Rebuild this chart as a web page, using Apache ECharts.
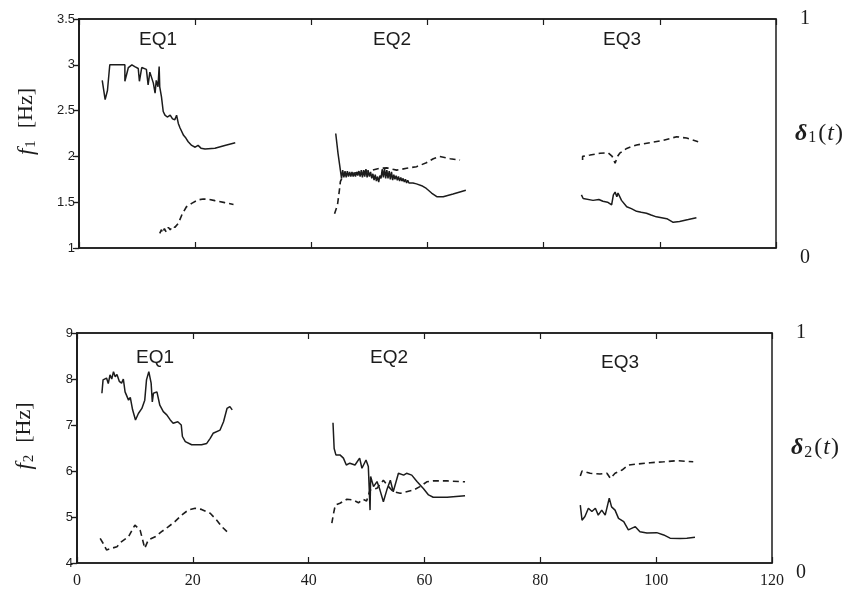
<!DOCTYPE html>
<html>
<head>
<meta charset="utf-8">
<script src="https://cdn.jsdelivr.net/npm/echarts@6/dist/echarts.min.js"></script>
<style>
html,body{margin:0;padding:0;background:#fff;}
#chart{width:847px;height:589px;}
</style>
</head>
<body>
<div id="chart"></div>
<script>
// ---- Data (time [s], value) ----
const eqLabels = ['EQ1', 'EQ2', 'EQ3'];
const xTickLabels = [0, 20, 40, 60, 80, 100, 120];

// Panel 1: f1 [Hz] (solid) and delta1(t) (dashed)
const f1_EQ1 = [[4.0,2.83],[4.5,2.62],[4.9,2.72],[5.3,3.0],[7.9,3.0],[7.9,2.82],[8.5,2.97],[9.1,3.0],[9.6,2.98],[10.2,2.96],[10.4,2.82],[10.8,2.97],[11.6,2.95],[11.9,2.78],[12.2,2.92],[12.5,2.91],[12.8,2.80],[13.1,2.69],[13.3,2.83],[13.6,2.76],[13.8,2.98],[13.9,2.76],[14.2,2.65],[14.5,2.49],[14.8,2.45],[15.2,2.43],[15.7,2.45],[16.1,2.41],[16.5,2.40],[16.8,2.45],[17.1,2.36],[17.4,2.31],[18.0,2.23],[18.4,2.20],[18.8,2.16],[19.4,2.12],[20.0,2.10],[20.5,2.12],[21.0,2.09],[21.7,2.08],[23.4,2.09],[25.1,2.12],[26.9,2.15]];
const d1_EQ1 = [[13.9,0.064],[14.2,0.08],[14.4,0.066],[14.7,0.085],[15.0,0.07],[15.4,0.09],[15.7,0.079],[16.1,0.095],[16.5,0.09],[17.1,0.108],[17.8,0.15],[18.5,0.18],[19.4,0.195],[20.5,0.21],[21.4,0.214],[22.3,0.213],[23.4,0.207],[25.1,0.198],[26.6,0.19]];
const f1_EQ2 = [[44.2,2.25],[44.6,2.03],[45.0,1.85],[45.2,1.76],[45.4,1.85],[45.6,1.77],[45.8,1.84],[46.0,1.77],[46.2,1.84],[46.4,1.78],[46.6,1.83],[46.8,1.78],[47.0,1.83],[47.2,1.78],[47.4,1.82],[47.6,1.78],[47.8,1.83],[48.0,1.79],[48.2,1.84],[48.4,1.78],[48.6,1.85],[48.8,1.77],[49.0,1.85],[49.2,1.78],[49.4,1.86],[49.6,1.77],[49.8,1.84],[50.0,1.78],[50.2,1.83],[50.4,1.76],[50.6,1.81],[50.8,1.74],[51.0,1.80],[51.2,1.73],[51.4,1.78],[51.6,1.72],[51.8,1.79],[52.0,1.76],[52.2,1.86],[52.4,1.77],[52.6,1.87],[52.8,1.76],[53.0,1.85],[53.2,1.76],[53.4,1.84],[53.6,1.75],[53.8,1.83],[54.0,1.74],[54.2,1.80],[54.4,1.75],[54.6,1.79],[54.8,1.74],[55.0,1.78],[55.2,1.73],[55.4,1.77],[55.6,1.73],[55.8,1.76],[56.0,1.72],[56.2,1.75],[56.4,1.71],[56.6,1.74],[56.8,1.71],[57.0,1.72],[57.5,1.71],[58.1,1.70],[59.0,1.68],[59.8,1.65],[60.7,1.60],[61.6,1.56],[62.7,1.56],[64.4,1.59],[66.6,1.63]];
const d1_EQ2 = [[44.0,0.15],[44.5,0.188],[44.8,0.246],[45.0,0.29],[45.5,0.319],[47.0,0.326],[48.9,0.333],[50.5,0.34],[51.8,0.348],[53.0,0.35],[54.7,0.34],[56.4,0.348],[58.1,0.355],[59.8,0.372],[61.0,0.39],[62.1,0.40],[63.9,0.39],[65.6,0.384]];
const f1_EQ3 = [[86.5,1.58],[86.8,1.54],[88.5,1.52],[89.5,1.53],[90.2,1.51],[91.0,1.50],[91.7,1.47],[92.0,1.58],[92.3,1.61],[92.6,1.56],[92.8,1.60],[93.4,1.52],[94.3,1.45],[95.1,1.43],[96.0,1.40],[96.8,1.39],[97.7,1.38],[98.5,1.36],[99.4,1.34],[100.3,1.33],[101.2,1.32],[102.3,1.28],[103.4,1.29],[104.9,1.31],[106.3,1.33]];
const d1_EQ3 = [[86.7,0.384],[86.7,0.40],[88.0,0.406],[89.7,0.414],[91.1,0.416],[91.8,0.40],[92.3,0.37],[92.7,0.40],[93.1,0.414],[94.3,0.435],[96.0,0.45],[98.3,0.46],[100.6,0.47],[102.9,0.486],[104.6,0.48],[106.6,0.464]];

// Panel 2: f2 [Hz] (solid) and delta2(t) (dashed)
const f2_EQ1 = [[4.3,7.69],[4.5,7.98],[5.1,8.02],[5.4,7.9],[5.7,8.09],[6.0,8.0],[6.3,8.16],[6.6,8.05],[6.9,8.10],[7.3,7.95],[7.7,7.91],[8.0,8.0],[8.3,7.72],[8.9,7.54],[9.2,7.60],[9.6,7.33],[10.1,7.11],[10.6,7.25],[11.2,7.36],[11.7,7.54],[12.0,7.98],[12.4,8.16],[12.8,7.91],[13.0,7.5],[13.2,7.69],[13.8,7.72],[14.3,7.43],[14.9,7.29],[15.5,7.22],[16.1,7.11],[16.6,7.04],[17.4,7.07],[18.0,7.0],[18.2,6.75],[18.7,6.64],[19.8,6.57],[21.5,6.57],[22.4,6.60],[23.0,6.71],[23.5,6.82],[24.7,6.89],[25.3,7.07],[25.9,7.36],[26.4,7.40],[26.8,7.33]];
const d2_EQ1 = [[4.0,0.107],[4.5,0.086],[5.1,0.057],[6.0,0.064],[6.9,0.071],[7.7,0.093],[8.9,0.114],[10.0,0.165],[10.9,0.143],[11.7,0.064],[12.3,0.10],[13.5,0.114],[14.6,0.136],[15.8,0.158],[16.9,0.18],[18.1,0.209],[19.2,0.23],[20.4,0.238],[21.5,0.233],[23.0,0.216],[24.1,0.187],[25.0,0.158],[25.9,0.136]];
const f2_EQ2 = [[44.2,7.05],[44.4,6.49],[44.7,6.35],[45.4,6.35],[46.0,6.28],[46.5,6.13],[47.1,6.17],[48.0,6.13],[48.8,6.28],[49.2,6.06],[49.9,6.24],[50.3,6.10],[50.6,5.15],[50.7,5.88],[51.2,5.66],[51.8,5.77],[52.3,5.59],[52.9,5.33],[53.5,5.59],[54.1,5.80],[54.6,5.55],[55.5,5.95],[56.4,5.91],[56.9,5.95],[57.8,5.91],[58.7,5.77],[59.8,5.62],[60.7,5.48],[61.5,5.43],[63.9,5.43],[67.0,5.46]];
const d2_EQ2 = [[44.0,0.173],[44.3,0.216],[44.6,0.252],[45.4,0.26],[46.6,0.277],[47.7,0.274],[48.6,0.262],[49.4,0.277],[50.0,0.27],[50.6,0.317],[51.8,0.325],[52.9,0.36],[53.8,0.332],[54.6,0.31],[55.8,0.303],[56.9,0.31],[58.1,0.317],[59.2,0.332],[60.4,0.353],[61.5,0.357],[63.9,0.357],[67.0,0.353]];
const f2_EQ3 = [[86.9,5.26],[87.2,4.93],[87.7,5.01],[88.3,5.19],[88.9,5.12],[89.5,5.19],[90.0,5.04],[90.6,5.15],[91.2,5.04],[91.9,5.41],[92.3,5.22],[92.9,5.15],[93.5,4.97],[94.4,4.90],[95.2,4.72],[96.4,4.79],[97.2,4.68],[98.4,4.65],[100.1,4.66],[101.3,4.61],[102.4,4.54],[104.1,4.53],[105.3,4.54],[106.7,4.56]];
const d2_EQ3 = [[86.9,0.378],[87.2,0.40],[88.6,0.39],[90.3,0.387],[91.5,0.39],[92.1,0.368],[92.9,0.39],[94.1,0.404],[95.2,0.426],[96.7,0.43],[99.0,0.436],[101.3,0.44],[103.6,0.445],[106.4,0.44]];

// ---- Styling ----
const INK = '#1c1c1c';
const SERIF = '"Liberation Serif", "DejaVu Serif", serif';
const SANS = '"Liberation Sans", Arial, sans-serif';

function bottomX(grid, showLabels) {
  return {
    type: 'value', gridIndex: grid, min: 0, max: 120, interval: 20, position: 'bottom',
    axisLine: { show: true, lineStyle: { color: INK, width: 1.5 } },
    axisTick: { show: true, inside: true, length: 6, lineStyle: { color: INK, width: 1.2 } },
    axisLabel: { show: showLabels, color: INK, fontFamily: SERIF, fontSize: 16, margin: 10,
      formatter: v => xTickLabels.includes(v) ? String(v) : '' },
    splitLine: { show: false }
  };
}
function topX(grid) {
  return {
    type: 'value', gridIndex: grid, min: 0, max: 120, interval: 20, position: 'top',
    axisLine: { show: true, lineStyle: { color: INK, width: 1.5 } },
    axisTick: { show: true, inside: true, length: 6, lineStyle: { color: INK, width: 1.2 } },
    axisLabel: { show: false }, splitLine: { show: false }
  };
}
function leftY(grid, min, max, interval, sub) {
  return {
    type: 'value', gridIndex: grid, min, max, interval, position: 'left',
    name: '{i|f}{s|' + sub + '}{r|[Hz]}', nameLocation: 'middle', nameGap: 40,
    nameTextStyle: { rich: {
      i: { fontFamily: SERIF, fontStyle: 'italic', fontSize: 23, color: INK, padding: [0, 0, 0, 24] },
      s: { fontFamily: SERIF, fontSize: 15, color: INK, padding: [10, 12, 0, 1] },
      r: { fontFamily: SERIF, fontSize: 22, color: INK }
    } },
    axisLine: { show: true, lineStyle: { color: INK, width: 1.5 } },
    axisTick: { show: true, inside: false, length: 4, lineStyle: { color: INK, width: 1.2 } },
    axisLabel: { color: INK, fontFamily: SANS, fontSize: 13, margin: 4 },
    splitLine: { show: false }
  };
}
function rightY(grid, sub) {
  return {
    type: 'value', gridIndex: grid, min: 0, max: 1, interval: 0.2, position: 'right',
    name: '{i|δ}{s|' + sub + '}{r|(}{t|t}{r|)}', nameLocation: 'middle', nameGap: 19, nameRotate: 0,
    nameMoveOverlap: false,
    nameTextStyle: { rich: {
      i: { fontFamily: SERIF, fontStyle: 'italic', fontWeight: 'bold', fontSize: 24, color: INK },
      t: { fontFamily: SERIF, fontStyle: 'italic', fontSize: 24, color: INK, padding: [0, 1, 0, 1] },
      s: { fontFamily: SERIF, fontSize: 16, color: INK, padding: [9, 2, 0, 1] },
      r: { fontFamily: SERIF, fontSize: 24, color: INK }
    } },
    axisLine: { show: true, lineStyle: { color: INK, width: 1.5 } },
    axisTick: { show: true, inside: true, length: 6, lineStyle: { color: INK, width: 1.2 } },
    axisLabel: { show: true, margin: 24, showMinLabel: true, showMaxLabel: true,
      formatter: v => Math.abs(v - 1) < 1e-6 ? '{t|1}' : (Math.abs(v) < 1e-6 ? '{b|0}' : ''),
      rich: {
        t: { fontFamily: SERIF, fontSize: 20, color: INK },
        b: { fontFamily: SERIF, fontSize: 20, color: INK, padding: [20, 0, 0, 0] }
      } },
    splitLine: { show: false }
  };
}
function solid(data, xi, yi) {
  return { type: 'line', data, xAxisIndex: xi, yAxisIndex: yi, showSymbol: false, symbol: 'none',
    lineStyle: { color: INK, width: 1.5 }, silent: true };
}
function dashed(data, xi, yi) {
  return { type: 'line', data, xAxisIndex: xi, yAxisIndex: yi, showSymbol: false, symbol: 'none',
    lineStyle: { color: INK, width: 1.6, type: [6, 4] }, silent: true };
}

const eqPos = [
  [[158, 40], [392, 40], [622, 40]],
  [[155, 358], [389, 358], [620, 363]]
];
const graphic = [];
eqPos.forEach(panel => panel.forEach((p, i) => {
  graphic.push({ type: 'text', x: p[0], y: p[1], silent: true,
    style: { text: eqLabels[i], fontFamily: SANS, fontSize: 19, fill: INK, align: 'center', verticalAlign: 'middle' } });
}));

const option = {
  animation: false,
  backgroundColor: '#ffffff',
  grid: [
    { left: 79, top: 19, right: 71, height: 229, show: true, borderColor: INK, borderWidth: 1.5, backgroundColor: 'transparent', outerBoundsMode: 'none', containLabel: false },
    { left: 77, top: 333, right: 75, height: 230, show: true, borderColor: INK, borderWidth: 1.5, backgroundColor: 'transparent', outerBoundsMode: 'none', containLabel: false }
  ],
  xAxis: [ bottomX(0, false), topX(0), bottomX(1, true), topX(1) ],
  yAxis: [ leftY(0, 1, 3.5, 0.5, '1'), rightY(0, '1'), leftY(1, 4, 9, 1, '2'), rightY(1, '2') ],
  series: [
    solid(f1_EQ1, 0, 0), solid(f1_EQ2, 0, 0), solid(f1_EQ3, 0, 0),
    dashed(d1_EQ1, 0, 1), dashed(d1_EQ2, 0, 1), dashed(d1_EQ3, 0, 1),
    solid(f2_EQ1, 2, 2), solid(f2_EQ2, 2, 2), solid(f2_EQ3, 2, 2),
    dashed(d2_EQ1, 2, 3), dashed(d2_EQ2, 2, 3), dashed(d2_EQ3, 2, 3)
  ],
  graphic
};

const chart = echarts.init(document.getElementById('chart'), null, { renderer: 'canvas' });
chart.setOption(option);
</script>
</body>
</html>
